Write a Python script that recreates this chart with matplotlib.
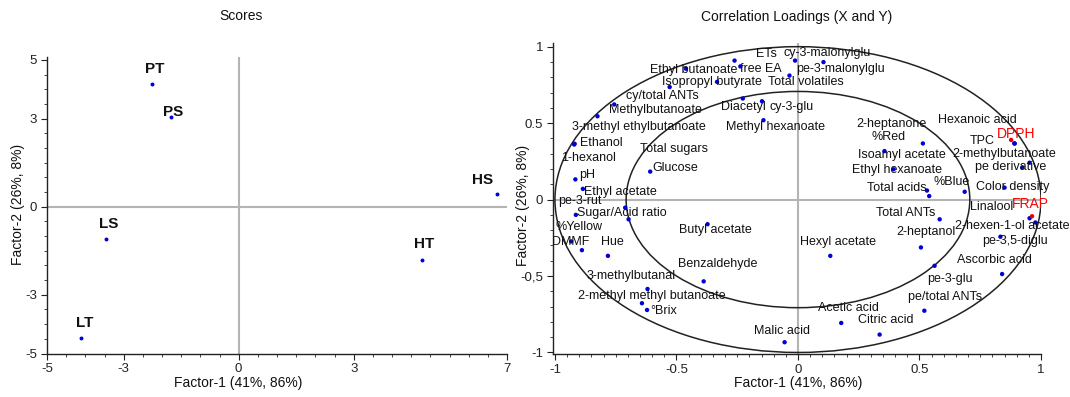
import matplotlib
matplotlib.use("Agg")
import matplotlib.pyplot as plt
from matplotlib.patches import Ellipse
from matplotlib.ticker import MultipleLocator, FixedLocator
import numpy as np

plt.rcParams['font.family'] = ['Liberation Sans', 'DejaVu Sans']
plt.rcParams['axes.unicode_minus'] = False

# ---------------- data ----------------
sample_names = ["PT", "PS", "LS", "LT", "HS", "HT"]
score_f1 = [-2.25, -1.77, -3.45, -4.11, 6.73, 4.77]
score_f2 = [4.19, 3.06, -1.10, -4.47, 0.42, -1.81]

var_names = [
    "ETs", "cy-3-malonylglu", "Ethyl butanoate", "free EA", "pe-3-malonylglu",
    "Isopropyl butyrate", "Total volatiles", "cy/total ANTs", "Diacetyl", "cy-3-glu",
    "Methylbutanoate", "3-methyl ethylbutanoate", "Methyl hexanoate", "Ethanol",
    "1-hexanol", "Total sugars", "Glucose", "pH", "Ethyl acetate", "pe-3-rut",
    "Sugar/Acid ratio", "%Yellow", "DMMF", "Hue", "Butyl acetate", "Benzaldehyde",
    "3-methylbutanal", "2-methyl methyl butanoate", "°Brix", "Malic acid",
    "Hexyl acetate", "Acetic acid", "Citric acid", "pe/total ANTs", "pe-3-glu",
    "2-heptanol", "Total ANTs", "Ascorbic acid", "pe-3,5-diglu",
    "2-hexen-1-ol acetate", "Linalool", "FRAP", "Color density", "pe derivative",
    "2-methylbutanoate", "TPC", "DPPH", "Hexanoic acid", "%Blue", "Total acids",
    "Ethyl hexanoate", "Isoamyl acetate", "%Red", "2-heptanone",
]
load_f1 = [
    -0.261, -0.012, -0.461, -0.237, 0.105,
    -0.333, -0.035, -0.528, -0.227, -0.148,
    -0.756, -0.825, -0.142, -0.919,
    -0.921, -0.697, -0.608, -0.916, -0.885, -0.711,
    -0.914, -0.889, -0.933, -0.782, -0.372, -0.388,
    -0.619, -0.642, -0.621, -0.055,
    0.133, 0.178, 0.336, 0.520, 0.562,
    0.506, 0.583, 0.840, 0.833,
    0.977, 0.953, 0.963, 0.850, 0.923,
    0.953, 0.892, 0.877, 0.890, 0.686, 0.540,
    0.531, 0.393, 0.356, 0.514,
]
load_f2 = [
    0.909, 0.909, 0.856, 0.871, 0.899,
    0.770, 0.811, 0.736, 0.661, 0.643,
    0.622, 0.545, 0.519, 0.365,
    0.360, -0.129, 0.183, 0.132, 0.070, -0.053,
    -0.100, -0.331, -0.274, -0.368, -0.161, -0.535,
    -0.585, -0.678, -0.722, -0.933,
    -0.368, -0.807, -0.883, -0.727, -0.433,
    -0.313, -0.129, -0.487, -0.243,
    -0.150, -0.122, -0.109, 0.078, 0.211,
    0.241, 0.366, 0.390, 0.368, 0.051, 0.023,
    0.059, 0.198, 0.317, 0.367,
]
highlight_vars = ["FRAP", "DPPH"]

# ---------------- layout (label offsets in pixels) ----------------
score_offsets = {"PT": (2.6, 14.3), "PS": (2.7, 5), "LS": (2.4, 15.4),
                 "LT": (3.2, 15), "HS": (-14, 14.4), "HT": (2.7, 15.4)}
var_offsets = {
    "ETs": (31.7, 7), "cy-3-malonylglu": (32, 8), "Ethyl butanoate": (7.6, -1),
    "free EA": (20, -2.6), "pe-3-malonylglu": (16.7, -6.5),
    "Isopropyl butyrate": (-5.4, -0.4), "Total volatiles": (16.5, -6),
    "cy/total ANTs": (-7.1, -8.5), "Diacetyl": (0.5, -8.3), "cy-3-glu": (29.5, -5.6),
    "Methylbutanoate": (41.3, -6), "3-methyl ethylbutanoate": (41, -11),
    "Methyl hexanoate": (11.7, -6.6), "Ethanol": (27, 1), "1-hexanol": (14.6, -13.2),
    "Total sugars": (45.5, 70.7), "Glucose": (25.3, 3.3), "pH": (11.7, 4),
    "Ethyl acetate": (37.3, -2.8), "pe-3-rut": (-45.2, 6.8),
    "Sugar/Acid ratio": (45.8, 1.4), "%Yellow": (-3.4, 23.5), "DMMF": (-0.2, -0.4),
    "Hue": (4.5, 14), "Butyl acetate": (7.4, -5.7), "Benzaldehyde": (13.7, 17.3),
    "3-methylbutanal": (-16.1, 12.7), "2-methyl methyl butanoate": (9.8, 7.6),
    "°Brix": (16.6, -1.3), "Malic acid": (-2.3, 11), "Hexyl acetate": (8, 13.4),
    "Acetic acid": (6.8, 14.7), "Citric acid": (5.9, 15), "pe/total ANTs": (21.2, 14),
    "pe-3-glu": (15.4, -13.3), "2-heptanol": (5.1, 15), "Total ANTs": (-33.5, 6),
    "Ascorbic acid": (-7.5, 14), "pe-3,5-diglu": (15, -4.2),
    "2-hexen-1-ol acetate": (-23.5, -3.4), "Linalool": (-38.1, 11),
    "FRAP": (-1.4, 12.7), "Color density": (8.5, 0.6), "pe derivative": (-11.2, 0.3),
    "2-methylbutanoate": (-24.9, 8.3), "TPC": (-32.5, 2.5), "DPPH": (5, 5.5),
    "Hexanoic acid": (-37.3, 23.2), "%Blue": (-12.8, 10.2), "Total acids": (-32.7, 7.7),
    "Ethyl hexanoate": (-30.5, 20.6), "Isoamyl acetate": (8.5, 14), "%Red": (4, 14),
    "2-heptanone": (-31.9, 19),
}

W, H = 1070, 397
fig = plt.figure(figsize=(W / 100, H / 100), dpi=100)

ax1 = fig.add_axes([47 / W, 1 - 353.5 / H, 460 / W, 296.5 / H])
ax2 = fig.add_axes([553 / W, 1 - 354 / H, 488 / W, 311 / H])

grid_col = "#b4b4b4"
pt_blue = "#0000d8"

def style_axes(ax):
    for s in ["top", "right"]:
        ax.spines[s].set_visible(False)
    for s in ["left", "bottom"]:
        ax.spines[s].set_linewidth(1.0)
        ax.spines[s].set_color("#222222")
    ax.tick_params(which="major", direction="out", length=4, width=0.8,
                   labelsize=9.5, colors="#222222", pad=3)
    ax.tick_params(which="minor", direction="out", length=2.5, width=0.6, colors="#222222")

# ---------------- left: scores ----------------
ax1.set_xlim(-5, 7)
ax1.set_ylim(-5, 5.1)
ax1.axhline(0, color=grid_col, lw=1.5, zorder=1)
ax1.axvline(0, color=grid_col, lw=1.5, zorder=1)
ax1.scatter(score_f1, score_f2, s=8, color=pt_blue, zorder=3, linewidths=0)
for n, x, y in zip(sample_names, score_f1, score_f2):
    dx, dy = score_offsets[n]
    ax1.annotate(n, (x, y), xytext=(dx, dy), textcoords="offset pixels",
                 ha="center", va="center", fontsize=11, fontweight="bold", color="#111111")
ax1.xaxis.set_major_locator(FixedLocator([-5, -3, 0, 3, 7]))
ax1.yaxis.set_major_locator(FixedLocator([-5, -3, 0, 3, 5]))
ax1.xaxis.set_minor_locator(MultipleLocator(0.5))
ax1.yaxis.set_minor_locator(MultipleLocator(0.5))
style_axes(ax1)

# ---------------- right: correlation loadings ----------------
ax2.set_xlim(-1.008, 1.0)
ax2.set_ylim(-1.01, 1.024)
ax2.axhline(0, color=grid_col, lw=1.5, zorder=1)
ax2.axvline(0, color=grid_col, lw=1.5, zorder=1)
ax2.add_patch(Ellipse((0, 0), 2, 2, fill=False, ec="#222222", lw=1.1, zorder=2))
r_in = np.sqrt(0.5)
ax2.add_patch(Ellipse((0, 0), 2 * r_in, 2 * r_in, fill=False, ec="#222222", lw=1.1, zorder=2))
cols = ["#ee0000" if n in highlight_vars else pt_blue for n in var_names]
ax2.scatter(load_f1, load_f2, s=10, c=cols, zorder=3, linewidths=0)
for n, x, y in zip(var_names, load_f1, load_f2):
    dx, dy = var_offsets[n]
    red = n in highlight_vars
    ax2.annotate(n, (x, y), xytext=(dx, dy), textcoords="offset pixels",
                 ha="center", va="center", fontsize=10 if red else 9,
                 color="#ff0000" if red else "#111111", zorder=4, annotation_clip=False)
ax2.xaxis.set_major_locator(FixedLocator([-1, -0.5, 0, 0.5, 1]))
ax2.yaxis.set_major_locator(FixedLocator([-1, -0.5, 0, 0.5, 1]))
ax2.set_xticklabels(["-1", "-0.5", "0", "0.5", "1"])
ax2.set_yticklabels(["-1", "-0,5", "0", "0.5", "1"])
ax2.xaxis.set_minor_locator(MultipleLocator(0.05))
ax2.yaxis.set_minor_locator(MultipleLocator(0.1))
style_axes(ax2)

# ---------------- titles and axis labels ----------------
def px(x, y):
    return x / W, 1 - y / H

fig.text(*px(241, 16), "Scores", ha="center", va="center", fontsize=10, color="#111111")
fig.text(*px(797, 17), "Correlation Loadings (X and Y)", ha="center", va="center",
         fontsize=10, color="#111111")
fig.text(*px(238, 383), "Factor-1 (41%, 86%)", ha="center", va="center", fontsize=10, color="#111111")
fig.text(*px(797.7, 383), "Factor-1 (41%, 86%)", ha="center", va="center", fontsize=10, color="#111111")
fig.text(*px(18, 204), "Factor-2 (26%, 8%)", ha="center", va="center", rotation=90,
         fontsize=10, color="#111111")
fig.text(*px(523, 205), "Factor-2 (26%, 8%)", ha="center", va="center", rotation=90,
         fontsize=10, color="#111111")

fig.savefig("out.png", dpi=100)
